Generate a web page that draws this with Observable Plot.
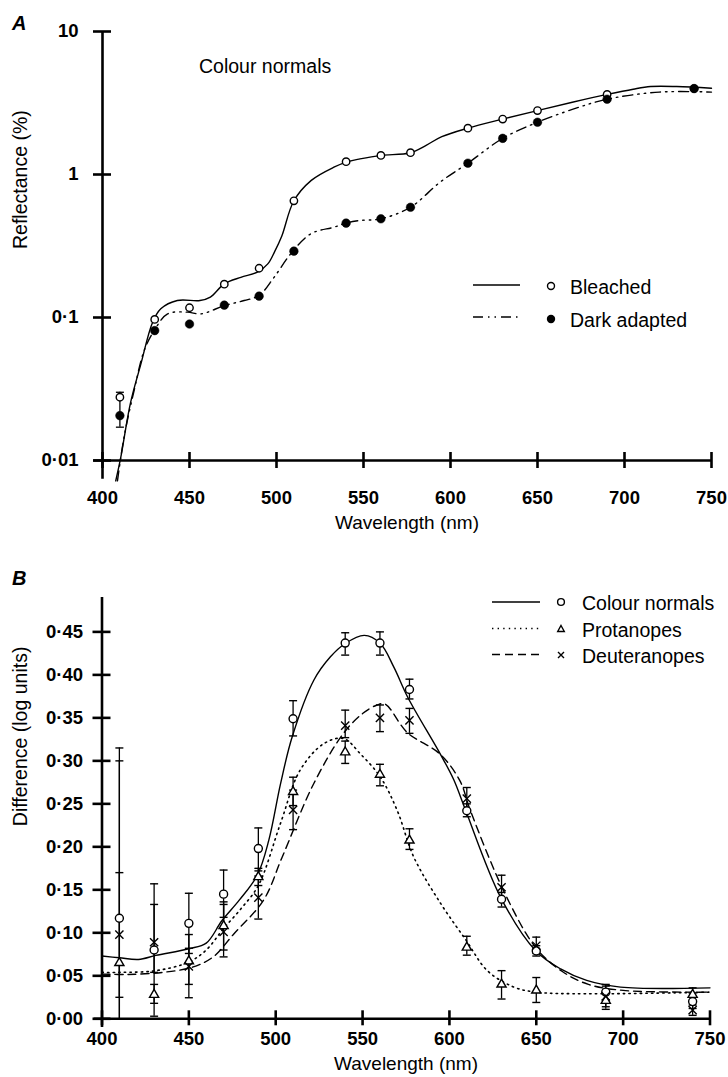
<!DOCTYPE html>
<html><head><meta charset="utf-8">
<script src="https://cdn.jsdelivr.net/npm/d3@7"></script>
<script src="https://cdn.jsdelivr.net/npm/@observablehq/plot@0.6"></script>
<style>
body{margin:0;background:#fff}
#wrap{position:relative;width:728px;height:1077px;overflow:hidden;background:#fff;font-family:"Liberation Sans",Arial,Helvetica,sans-serif}
#a,#b{position:absolute;left:0}
#a{top:0}
#b{top:540px}
#ov{position:absolute;left:0;top:0;pointer-events:none}
</style></head><body>
<div id="wrap"><div id="a"></div><div id="b"></div><svg id="ov" width="728" height="1077"></svg></div>
<script>
const FONT = '"Liberation Sans", Arial, Helvetica, sans-serif';

// ---------- Panel A : reflectance ----------
const wlA = [410, 430, 450, 470, 490, 510, 540, 560, 577, 610, 630, 650, 690, 740];
const bleached = [0.0277, 0.097, 0.117, 0.171, 0.221, 0.655, 1.23, 1.36, 1.42, 2.11, 2.44, 2.80, 3.63, 3.99];
const darkAdapted = [0.0206, 0.081, 0.090, 0.122, 0.141, 0.291, 0.457, 0.490, 0.59, 1.20, 1.79, 2.32, 3.36, 3.99];
const errWlA = [410];
const bleachedLo = [0.0245], bleachedHi = [0.030];
const darkLo = [0.0171], darkHi = [0.0245];
const bleachedFitWl = [407.6, 410.5, 416, 422, 428.7, 433.5, 443, 456, 462, 470, 479.5, 489, 495, 499, 503, 510, 520, 533, 541, 548, 560, 577, 586, 595, 610, 630, 650, 670, 690, 705, 715, 730, 750];
const bleachedFit = [0.0072, 0.0105, 0.025, 0.047, 0.092, 0.115, 0.1315, 0.1315, 0.139, 0.172, 0.191, 0.2075, 0.237, 0.29, 0.37, 0.655, 0.91, 1.125, 1.23, 1.285, 1.36, 1.42, 1.6, 1.84, 2.11, 2.44, 2.80, 3.2, 3.63, 3.95, 4.12, 4.12, 4.01];
const darkFitWl = [408.6, 412.4, 418.2, 424, 429.7, 437.4, 448.8, 456.5, 470, 481.4, 490, 498.6, 508.2, 519.7, 533, 540, 548, 560, 577, 594, 610, 630, 650, 670, 690, 720, 750];
const darkFit = [0.0072, 0.0146, 0.031, 0.059, 0.081, 0.106, 0.109, 0.106, 0.121, 0.1315, 0.1426, 0.191, 0.279, 0.385, 0.428, 0.457, 0.477, 0.49, 0.59, 0.884, 1.2, 1.79, 2.32, 2.85, 3.36, 3.77, 3.77];
const xTicks = [400, 450, 500, 550, 600, 650, 700, 750];
const yTicksA = [0.01, 0.1, 1, 10];
const yTickLabelsA = ["0·01", "0·1", "1", "10"];

// ---------- Panel B : difference ----------
const wlB = [410, 430, 450, 470, 490, 510, 540, 560, 577, 610, 630, 650, 690, 740];
const normals = [0.117, 0.080, 0.111, 0.145, 0.198, 0.349, 0.437, 0.437, 0.383, 0.242, 0.139, 0.079, 0.031, 0.020];
const normalsLo = [0, 0.003, 0.076, 0.118, 0.172, 0.329, 0.423, 0.423, 0.372, 0.235, 0.130, 0.073, 0.022, 0.012];
const normalsHi = [0.315, 0.157, 0.146, 0.173, 0.222, 0.370, 0.449, 0.450, 0.395, 0.250, 0.147, 0.085, 0.040, 0.030];
const protanopes = [0.065, 0.028, 0.067, 0.108, 0.165, 0.264, 0.310, 0.284, 0.2075, 0.083, 0.040, 0.033, 0.021, 0.028];
const protanopesLo = [0, 0.018, 0.0245, 0.080, 0.155, 0.248, 0.297, 0.271, 0.197, 0.074, 0.023, 0.019, 0.011, 0.020];
const protanopesHi = [0.300, 0.040, 0.098, 0.136, 0.175, 0.281, 0.323, 0.296, 0.221, 0.096, 0.056, 0.048, 0.030, 0.036];
const deuteranopes = [0.098, 0.089, 0.061, 0.101, 0.141, 0.243, 0.341, 0.350, 0.347, 0.256, 0.153, 0.085, 0.026, 0.010];
const deuteranopesLo = [0.025, 0.054, 0.040, 0.072, 0.116, 0.220, 0.327, 0.334, 0.332, 0.243, 0.140, 0.076, 0.014, 0.004];
const deuteranopesHi = [0.170, 0.133, 0.082, 0.133, 0.166, 0.266, 0.359, 0.365, 0.361, 0.269, 0.167, 0.095, 0.038, 0.016];
const normalsFitWl = [400, 410, 421, 431, 450, 460, 469, 479, 489.4, 496, 502.8, 509.5, 522, 531.5, 540, 551, 560, 568, 576, 595, 602.5, 609.3, 629.4, 649.5, 664, 679, 698.5, 750];
const normalsFit = [0.073, 0.071, 0.069, 0.0737, 0.0815, 0.088, 0.114, 0.138, 0.167, 0.2075, 0.2735, 0.328, 0.394, 0.421, 0.4365, 0.446, 0.437, 0.409, 0.374, 0.307, 0.278, 0.2425, 0.1416, 0.0795, 0.058, 0.0446, 0.0368, 0.036];
const protanopesFitWl = [400, 410, 431, 450, 460, 470, 480, 490, 502.7, 514, 527.7, 539, 548.8, 560.3, 570, 579.5, 595, 609.7, 621.8, 637, 650, 679, 750];
const protanopesFit = [0.054, 0.054, 0.056, 0.066, 0.080, 0.105, 0.128, 0.155, 0.227, 0.289, 0.320, 0.326, 0.308, 0.281, 0.242, 0.188, 0.134, 0.091, 0.056, 0.037, 0.031, 0.0291, 0.031];
const deuteranopesFitWl = [400, 415, 435, 452, 464, 476, 493, 503.7, 522, 539, 550, 558.4, 563, 575.7, 594.5, 606, 612, 632, 650, 665, 680, 700, 750];
const deuteranopesFit = [0.052, 0.0516, 0.054, 0.060, 0.072, 0.099, 0.138, 0.188, 0.274, 0.332, 0.355, 0.365, 0.366, 0.333, 0.308, 0.277, 0.2425, 0.1455, 0.082, 0.055, 0.040, 0.033, 0.031];
const yTicksB = [0, 0.05, 0.10, 0.15, 0.20, 0.25, 0.30, 0.35, 0.40, 0.45];

const dotFmt = d => d3.format(".2f")(d).replace(".", "·");
const cap = {draw(ctx) { ctx.moveTo(-4, 0); ctx.lineTo(4, 0); }};

const fitA = (w, v) => w.map((x, i) => ({x, y: v[i]}));
const ptsA = wlA.map((x, i) => ({x, b: bleached[i], d: darkAdapted[i]}));
const errA = errWlA.map((x, i) => ({x, bLo: bleachedLo[i], bHi: bleachedHi[i], dLo: darkLo[i], dHi: darkHi[i]}));

const AX = 2.6;
const plotA = Plot.plot({
  width: 728, height: 540,
  marginLeft: 102, marginRight: 17, marginTop: 31, marginBottom: 80,
  x: {domain: [400, 750]},
  y: {type: "log", domain: [0.01, 10]},
  style: {fontFamily: FONT, background: "white", color: "black", overflow: "visible"},
  marks: [
    Plot.ruleX([400], {y1: 0.0074, y2: 10, strokeWidth: AX}),
    Plot.ruleY([0.01], {x1: 395, x2: 750, strokeWidth: AX}),
    Plot.axisX({ticks: xTicks, tickSize: 16, dy: -8, tickFormat: () => "", strokeWidth: AX, label: null}),
    Plot.axisX({ticks: xTicks, tickSize: 0, tickPadding: 30, tickFormat: d => String(d), fontSize: 18.5, fontWeight: "bold", label: null}),
    Plot.axisY({ticks: yTicksA, tickSize: 18, dx: 9, tickFormat: () => "", strokeWidth: AX, label: null}),
    Plot.axisY({ticks: yTicksA, tickSize: 0, tickPadding: 24, tickFormat: d => yTickLabelsA[yTicksA.indexOf(d)], fontSize: 18.5, fontWeight: "bold", label: null}),
    Plot.text(["Wavelength (nm)"], {frameAnchor: "bottom", dy: 68, text: d => d, fontSize: 19}),
    Plot.text(["Reflectance (%)"], {frameAnchor: "left", rotate: -90, dx: -82, dy: 3, text: d => d, fontSize: 19.5}),
    Plot.line(fitA(bleachedFitWl, bleachedFit), {x: "x", y: "y", curve: "catmull-rom", strokeWidth: 1.4}),
    Plot.line(fitA(darkFitWl, darkFit), {x: "x", y: "y", curve: "catmull-rom", strokeWidth: 1.4, strokeDasharray: "10,5,1.5,5,1.5,5"}),
    Plot.ruleX(errA, {x: "x", y1: "dLo", y2: "bHi", strokeWidth: 1.3}),
    Plot.dot(errA, {x: "x", y: "bHi", symbol: cap, r: 3, stroke: "black", strokeWidth: 1.3}),
    Plot.dot(errA, {x: "x", y: "dLo", symbol: cap, r: 3, stroke: "black", strokeWidth: 1.3}),
    Plot.dot(ptsA, {x: "x", y: "b", r: 3.7, fill: "white", stroke: "black", strokeWidth: 1.4}),
    Plot.dot(ptsA, {x: "x", y: "d", r: 4.3, fill: "black", stroke: "black", strokeWidth: 0.5})
  ]
});
document.getElementById("a").appendChild(plotA);

// ---------- build panel B ----------
const groups = [
  {v: normals, lo: normalsLo, hi: normalsHi},
  {v: protanopes, lo: protanopesLo, hi: protanopesHi},
  {v: deuteranopes, lo: deuteranopesLo, hi: deuteranopesHi}
];
const ptsB = groups.map(g => wlB.map((x, i) => ({x, y: g.v[i], lo: g.lo[i], hi: g.hi[i]})));
const errAll = ptsB.flat();

const plotB = Plot.plot({
  width: 728, height: 537,
  marginLeft: 101.5, marginRight: 18.5, marginTop: 57, marginBottom: 58.7,
  x: {domain: [400, 750]},
  y: {domain: [0, 0.49]},
  style: {fontFamily: FONT, background: "white", color: "black", overflow: "visible"},
  marks: [
    Plot.ruleX([400], {y1: -0.01, y2: 0.49, strokeWidth: AX}),
    Plot.ruleY([0], {x1: 395.5, x2: 750, strokeWidth: AX}),
    Plot.axisX({ticks: xTicks, tickSize: 15, dy: -8, tickFormat: () => "", strokeWidth: AX, label: null}),
    Plot.axisX({ticks: xTicks, tickSize: 0, tickPadding: 13, tickFormat: d => String(d), fontSize: 18.5, fontWeight: "bold", label: null}),
    Plot.axisY({ticks: yTicksB, tickSize: 18, dx: 9, tickFormat: () => "", strokeWidth: AX, label: null}),
    Plot.axisY({ticks: yTicksB, tickSize: 0, tickPadding: 19, tickFormat: dotFmt, fontSize: 18.5, fontWeight: "bold", label: null}),
    Plot.text(["Wavelength (nm)"], {frameAnchor: "bottom", dy: 51, text: d => d, fontSize: 19}),
    Plot.text(["Difference (log units)"], {frameAnchor: "left", rotate: -90, dx: -81.5, dy: 18, text: d => d, fontSize: 19.5}),
    Plot.line(fitA(normalsFitWl, normalsFit), {x: "x", y: "y", curve: "catmull-rom", strokeWidth: 1.4}),
    Plot.line(fitA(protanopesFitWl, protanopesFit), {x: "x", y: "y", curve: "catmull-rom", strokeWidth: 1.6, strokeDasharray: "1.4,4.2"}),
    Plot.line(fitA(deuteranopesFitWl, deuteranopesFit), {x: "x", y: "y", curve: "catmull-rom", strokeWidth: 1.4, strokeDasharray: "8,5"}),
    Plot.ruleX(errAll, {x: "x", y1: "lo", y2: "hi", strokeWidth: 1.3}),
    Plot.dot(errAll.filter(d => d.hi > 0), {x: "x", y: "hi", symbol: cap, r: 3, stroke: "black", strokeWidth: 1.4}),
    Plot.dot(errAll.filter(d => d.lo > 0), {x: "x", y: "lo", symbol: cap, r: 3, stroke: "black", strokeWidth: 1.4}),
    Plot.dot(ptsB[0], {x: "x", y: "y", r: 4, fill: "white", stroke: "black", strokeWidth: 1.4}),
    Plot.dot(ptsB[1], {x: "x", y: "y", r: 3.4, symbol: "triangle", fill: "white", stroke: "black", strokeWidth: 1.4}),
    Plot.dot(ptsB[2], {x: "x", y: "y", r: 3.8, symbol: "times", stroke: "black", strokeWidth: 1.4})
  ]
});
document.getElementById("b").appendChild(plotB);

// ---------- overlay: panel letters, note and legends ----------
const ov = document.getElementById("ov");
ov.innerHTML = `
<g font-family='${FONT}' fill="black">
  <text x="12" y="30" font-size="20" font-weight="bold" font-style="italic">A</text>
  <text x="12" y="585" font-size="20" font-weight="bold" font-style="italic">B</text>
  <text x="199" y="73" font-size="19.5">Colour normals</text>
  <line x1="473" x2="520" y1="285" y2="285" stroke="black" stroke-width="1.4"/>
  <circle cx="551" cy="286" r="3.5" fill="white" stroke="black" stroke-width="1.4"/>
  <text x="570" y="294" font-size="19.5">Bleached</text>
  <line x1="473" x2="520" y1="317" y2="317" stroke="black" stroke-width="1.4" stroke-dasharray="10,5,1.5,5,1.5,5"/>
  <circle cx="551" cy="319" r="4.2" fill="black"/>
  <text x="570" y="327" font-size="19.5">Dark adapted</text>
  <line x1="492" x2="540" y1="602" y2="602" stroke="black" stroke-width="1.4"/>
  <circle cx="561" cy="602" r="3.4" fill="white" stroke="black" stroke-width="1.4"/>
  <text x="582" y="610" font-size="19.5">Colour normals</text>
  <line x1="492" x2="540" y1="628.5" y2="628.5" stroke="black" stroke-width="1.6" stroke-dasharray="1.4,4.2"/>
  <path d="M561,625.5L564.3,631.5L557.7,631.5Z" fill="white" stroke="black" stroke-width="1.4"/>
  <text x="582" y="637" font-size="19.5">Protanopes</text>
  <line x1="492" x2="540" y1="654.5" y2="654.5" stroke="black" stroke-width="1.4" stroke-dasharray="8,5"/>
  <path d="M558,652L564,658M558,658L564,652" stroke="black" stroke-width="1.4"/>
  <text x="582" y="663" font-size="19.5">Deuteranopes</text>
</g>`;
</script>
</body></html>
